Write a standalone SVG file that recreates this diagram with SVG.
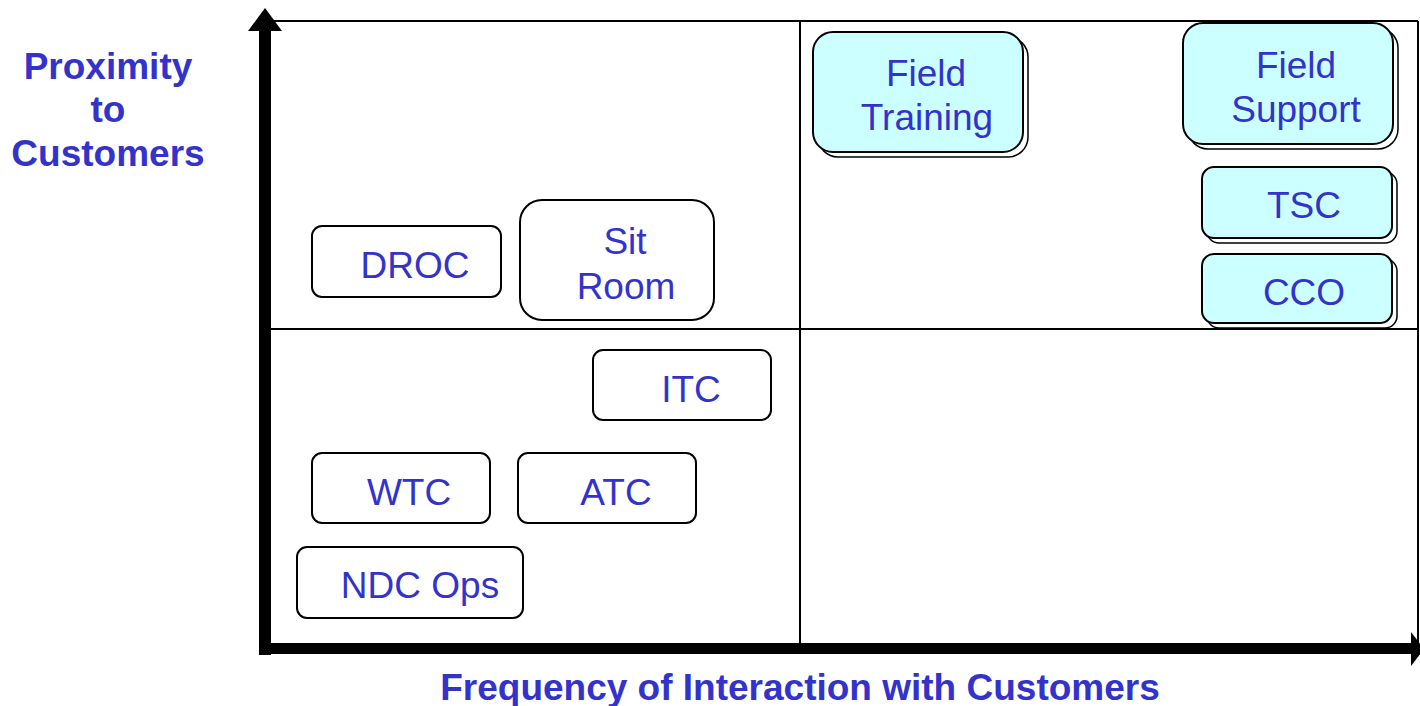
<svg xmlns="http://www.w3.org/2000/svg" width="1420" height="706" viewBox="0 0 1420 706">
<style>
.lbl{font-family:"Liberation Sans",Arial,sans-serif;font-size:37px;fill:#3333CC;text-anchor:middle}
.ax{font-family:"Liberation Sans",Arial,sans-serif;font-size:37px;font-weight:bold;fill:#3333CC;text-anchor:middle}
.box{fill:#FFFFFF;stroke:#000;stroke-width:2}
.cyan{fill:#CCFFFF;stroke:#000;stroke-width:2}
.sh{fill:#FFFFFF;stroke:#000;stroke-width:1.5}
.grid{stroke:#000;stroke-width:2;fill:none}
</style>
<rect width="1420" height="706" fill="#FFFFFF"/>
<g id="connectors">
<line class="grid" x1="265" y1="21" x2="1418" y2="21"/>
<line class="grid" x1="1418" y1="21" x2="1418" y2="645"/>
<line class="grid" x1="265" y1="329" x2="1418" y2="329"/>
<line class="grid" x1="800" y1="21" x2="800" y2="645"/>
<rect x="259" y="28" width="12" height="627" fill="#000"/>
<polygon points="265,8 282,31 248,31" fill="#000"/>
<rect x="259" y="643" width="1154" height="11" fill="#000"/>
<polygon points="1424,649 1411,632 1411,666" fill="#000"/>
</g>
<g id="axis-y-label">
<text class="ax" x="108" y="79">Proximity</text>
<text class="ax" x="108" y="122">to</text>
<text class="ax" x="108" y="166">Customers</text>
</g>
<g id="axis-x-label">
<text class="ax" x="800" y="700">Frequency of Interaction with Customers</text>
</g>
<g id="droc">
<rect class="box" x="312" y="226" width="189" height="71" rx="10"/>
<text class="lbl" x="415" y="278">DROC</text>
</g>
<g id="sitroom">
<rect class="box" x="520" y="200" width="194" height="120" rx="22"/>
<text class="lbl" x="625" y="254">Sit</text>
<text class="lbl" x="626" y="299">Room</text>
</g>
<g id="itc">
<rect class="box" x="593" y="350" width="178" height="70" rx="10"/>
<text class="lbl" x="691" y="402">ITC</text>
</g>
<g id="wtc">
<rect class="box" x="312" y="453" width="178" height="70" rx="10"/>
<text class="lbl" x="409" y="505">WTC</text>
</g>
<g id="atc">
<rect class="box" x="518" y="453" width="178" height="70" rx="10"/>
<text class="lbl" x="616" y="505">ATC</text>
</g>
<g id="ndcops">
<rect class="box" x="297" y="547" width="226" height="71" rx="10"/>
<text class="lbl" x="420" y="598">NDC Ops</text>
</g>
<g id="fieldtraining">
<rect class="sh" x="818" y="37" width="210" height="120" rx="20"/>
<rect class="cyan" x="813" y="32" width="210" height="120" rx="20"/>
<text class="lbl" x="926" y="86">Field</text>
<text class="lbl" x="927" y="130">Training</text>
</g>
<g id="fieldsupport">
<rect class="sh" x="1188" y="28" width="210" height="121" rx="20"/>
<rect class="cyan" x="1183" y="23" width="210" height="121" rx="20"/>
<text class="lbl" x="1296" y="78">Field</text>
<text class="lbl" x="1296" y="122">Support</text>
</g>
<g id="tsc">
<rect class="sh" x="1207" y="172" width="190" height="71" rx="12"/>
<rect class="cyan" x="1202" y="167" width="190" height="71" rx="12"/>
<text class="lbl" x="1304" y="218">TSC</text>
</g>
<g id="cco">
<rect class="sh" x="1207" y="259" width="190" height="69" rx="12"/>
<rect class="cyan" x="1202" y="254" width="190" height="69" rx="12"/>
<text class="lbl" x="1304" y="305">CCO</text>
</g>
</svg>
